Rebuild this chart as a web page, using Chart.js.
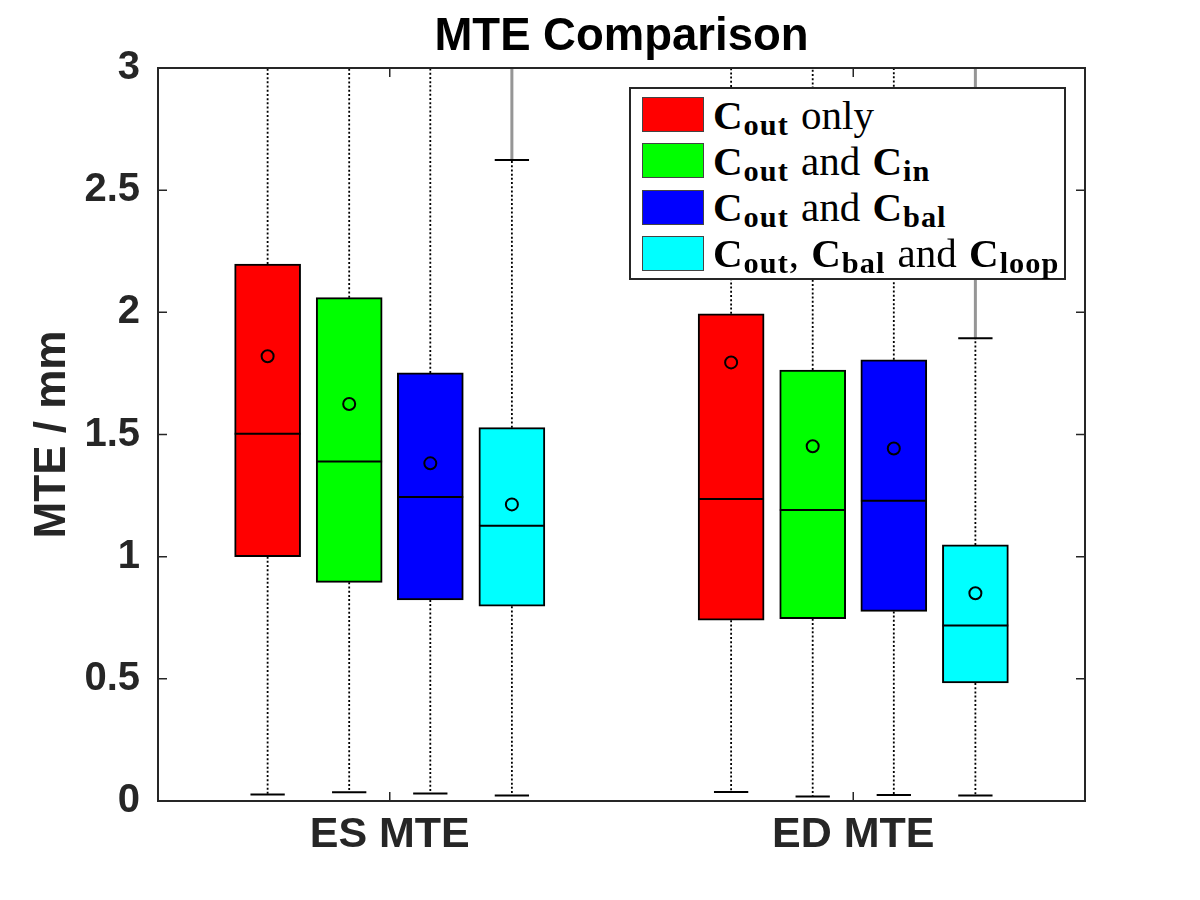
<!DOCTYPE html>
<html>
<head>
<meta charset="utf-8">
<title>MTE Comparison</title>
<script src="https://cdn.jsdelivr.net/npm/chart.js@4.4.1/dist/chart.umd.min.js"></script>
<style>
  html, body { margin: 0; padding: 0; background: #fff; }
  #wrap { position: relative; width: 1200px; height: 900px; }
  #legend {
    position: absolute; left: 629px; top: 87px; width: 437px; height: 193px;
    box-sizing: border-box; border: 2px solid #262626; background: #fff;
    font-family: 'Liberation Serif', 'DejaVu Serif', serif; font-size: 41px; color: #000;
  }
  #legend .row { position: absolute; left: 11px; height: 35px; display: flex; align-items: center; white-space: nowrap; word-spacing: 2px; }
  #legend .swatch { width: 62px; height: 35px; box-sizing: border-box; border: 1px solid #444; margin-right: 9px; flex: none; }
  #legend b { letter-spacing: 1px; }
  #legend sub { font-size: 0.74em; vertical-align: -0.2em; line-height: 0; }
</style>
</head>
<body>
<div id="wrap">
  <canvas id="chart" width="1200" height="900"></canvas>
  <div id="legend"></div>
</div>
<script>
// Gruplar ve seriler
const categories = ['ES MTE', 'ED MTE'];
const seriesLabels = [
    '<b>C<sub>out</sub></b> only',
    '<b>C<sub>out</sub></b> and <b>C<sub>in</sub></b>',
    '<b>C<sub>out</sub></b> and <b>C<sub>bal</sub></b>',
    '<b>C<sub>out</sub></b>, <b>C<sub>bal</sub></b> and <b>C<sub>loop</sub></b>'
];
const seriesColors = ['#ff0000', '#00ff00', '#0000ff', '#00ffff'];
const yTicks = [0, 0.5, 1, 1.5, 2, 2.5, 3];

// Kutu istatistikleri: satır = seri, sütun = grup (ES, ED)
const q1Values = [[1.000, 0.740], [0.895, 0.746], [0.823, 0.776], [0.797, 0.483]];
const medianValues = [[1.503, 1.236], [1.390, 1.191], [1.244, 1.229], [1.127, 0.718]];
const q3Values = [[2.198, 1.994], [2.060, 1.764], [1.752, 1.806], [1.528, 1.048]];
const meanValues = [[1.820, 1.795], [1.625, 1.452], [1.382, 1.443], [1.214, 0.850]];
const whiskerLow = [[0.027, 0.037], [0.036, 0.018], [0.031, 0.025], [0.022, 0.022]];
const whiskerHigh = [[3.9, 3.8], [3.7, 3.25], [3.1, 3.3], [2.623, 1.894]];
const outlierMax = [[null, null], [null, null], [null, null], [3.5, 3.5]];

// Yerleşim sabitleri (x ekseni birimi)
const groupOffsets = [-0.2635, -0.0875, 0.0875, 0.2635];
const boxHalf = 0.071;
const capHalf = 0.037;
const FONT = "'Liberation Sans', Arial, Helvetica, sans-serif";
const AXIS_COLOR = '#262626';

Chart.defaults.font.family = FONT;

function boxX(s, g) {
    return g + 1 + groupOffsets[s];
}

// Her seri için veri kümelerini oluştur
const datasets = [];
seriesColors.forEach((color, s) => {
    datasets.push({
        type: 'bar',
        data: categories.map((_, g) => ({ x: boxX(s, g), y: [q1Values[s][g], q3Values[s][g]] })),
        backgroundColor: color,
        borderColor: '#000',
        borderWidth: 2,
        borderSkipped: false,
        barThickness: 66,
        grouped: false,
        order: 5
    });

    const whiskers = [];
    const caps = [];
    const medians = [];
    const outliers = [];
    categories.forEach((_, g) => {
        const x = boxX(s, g);
        whiskers.push({ x, y: q3Values[s][g] }, { x, y: whiskerHigh[s][g] }, { x, y: null });
        whiskers.push({ x, y: q1Values[s][g] }, { x, y: whiskerLow[s][g] }, { x, y: null });
        caps.push({ x: x - capHalf, y: whiskerHigh[s][g] }, { x: x + capHalf, y: whiskerHigh[s][g] }, { x, y: null });
        caps.push({ x: x - capHalf, y: whiskerLow[s][g] }, { x: x + capHalf, y: whiskerLow[s][g] }, { x, y: null });
        medians.push({ x: x - boxHalf, y: medianValues[s][g] }, { x: x + boxHalf, y: medianValues[s][g] }, { x, y: null });
        if (outlierMax[s][g] !== null) {
            outliers.push({ x, y: whiskerHigh[s][g] }, { x, y: outlierMax[s][g] }, { x, y: null });
        }
    });

    const lineBase = { type: 'line', pointRadius: 0, tension: 0, fill: false, spanGaps: false, clip: 0 };
    datasets.push(Object.assign({}, lineBase, { data: outliers, borderColor: 'rgb(150,150,150)', borderWidth: 3, order: 4 }));
    datasets.push(Object.assign({}, lineBase, { data: whiskers, borderColor: '#000', borderWidth: 1.8, borderDash: [2, 2.2], order: 3 }));
    datasets.push(Object.assign({}, lineBase, { data: caps, borderColor: '#000', borderWidth: 2, order: 2 }));
    datasets.push(Object.assign({}, lineBase, { data: medians, borderColor: '#000', borderWidth: 2, order: 1 }));
    datasets.push({
        type: 'line',
        data: categories.map((_, g) => ({ x: boxX(s, g), y: meanValues[s][g] })),
        showLine: false,
        pointStyle: 'circle',
        pointRadius: 6,
        pointBorderWidth: 2,
        pointBorderColor: '#000',
        pointBackgroundColor: 'rgba(0,0,0,0)',
        clip: 0,
        order: 0
    });
});

// Çerçeve ve içe dönük tik işaretleri
const axesFrame = {
    id: 'axesFrame',
    afterDraw(chart) {
        const { ctx, chartArea: a, scales: { x, y } } = chart;
        const len = 9;
        ctx.save();
        ctx.strokeStyle = AXIS_COLOR;
        ctx.lineWidth = 1.5;
        ctx.beginPath();
        y.ticks.forEach(t => {
            const py = y.getPixelForValue(t.value);
            ctx.moveTo(a.left, py); ctx.lineTo(a.left + len, py);
            ctx.moveTo(a.right, py); ctx.lineTo(a.right - len, py);
        });
        x.ticks.forEach(t => {
            const px = x.getPixelForValue(t.value);
            ctx.moveTo(px, a.bottom); ctx.lineTo(px, a.bottom - len);
            ctx.moveTo(px, a.top); ctx.lineTo(px, a.top + len);
        });
        ctx.stroke();
        ctx.lineWidth = 2;
        ctx.strokeRect(a.left, a.top, a.right - a.left, a.bottom - a.top);
        ctx.restore();
    }
};

new Chart(document.getElementById('chart'), {
    type: 'bar',
    data: { datasets },
    options: {
        responsive: false,
        animation: false,
        layout: { padding: { left: 0, right: 115, top: 0, bottom: 0 } },
        plugins: {
            legend: { display: false },
            tooltip: { enabled: false },
            title: {
                display: true,
                fullSize: false,
                text: 'MTE Comparison',
                color: '#000',
                font: { size: 45.5, weight: 'bold', family: FONT },
                padding: { top: 10, bottom: 3.4 }
            }
        },
        scales: {
            x: {
                type: 'linear',
                min: 0.5,
                max: 2.5,
                offset: false,
                grid: { display: false, drawTicks: false },
                border: { display: false },
                afterBuildTicks: scale => { scale.ticks = categories.map((_, i) => ({ value: i + 1 })); },
                afterFit: scale => { scale.height = 99; },
                ticks: {
                    color: AXIS_COLOR,
                    font: { size: 43, weight: 'bold' },
                    padding: 8,
                    maxRotation: 0,
                    autoSkip: false,
                    callback: value => categories[value - 1]
                }
            },
            y: {
                min: 0,
                max: 3,
                grid: { display: false, drawTicks: false },
                border: { display: false },
                afterBuildTicks: scale => { scale.ticks = yTicks.map(v => ({ value: v })); },
                afterFit: scale => { scale.width = 158; },
                ticks: {
                    color: AXIS_COLOR,
                    font: { size: 40, weight: 'bold' },
                    padding: 18,
                    callback: value => String(value)
                },
                title: {
                    display: true,
                    text: 'MTE / mm',
                    color: AXIS_COLOR,
                    font: { size: 44, weight: 'bold' },
                    padding: { top: 26, bottom: 0 }
                }
            }
        }
    },
    plugins: [axesFrame]
});

// HTML lejant (alt simgeler için)
const legendEl = document.getElementById('legend');
seriesLabels.forEach((label, i) => {
    const row = document.createElement('div');
    row.className = 'row';
    row.style.top = (8 + i * 46.3) + 'px';
    row.innerHTML = `<span class="swatch" style="background:${seriesColors[i]}"></span><span>${label}</span>`;
    legendEl.appendChild(row);
});
</script>
</body>
</html>
